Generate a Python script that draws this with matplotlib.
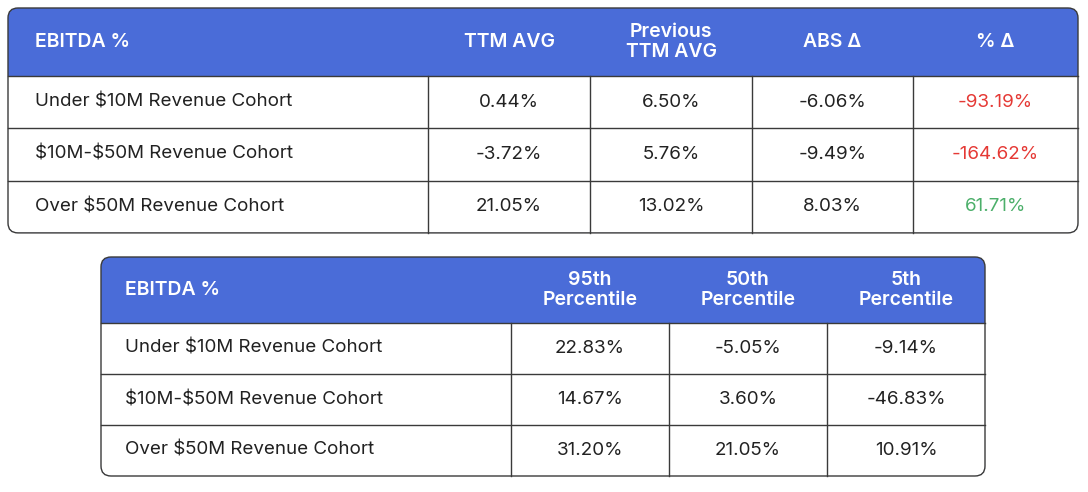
import matplotlib.pyplot as plt
from matplotlib.patches import FancyBboxPatch, Rectangle

BLUE = "#4A6CD8"
EDGE = "#3a3a3a"
RED = "#E53935"
GREEN = "#4CAF6A"

cohorts = ["Under $10M Revenue Cohort", "$10M-$50M Revenue Cohort", "Over $50M Revenue Cohort"]

top_headers = ["EBITDA %", "TTM AVG", "Previous\nTTM AVG", "ABS Δ", "% Δ"]
ttm_avg = ["0.44%", "-3.72%", "21.05%"]
prev_ttm_avg = ["6.50%", "5.76%", "13.02%"]
abs_delta = ["-6.06%", "-9.49%", "8.03%"]
pct_delta = ["-93.19%", "-164.62%", "61.71%"]

bottom_headers = ["EBITDA %", "95th\nPercentile", "50th\nPercentile", "5th\nPercentile"]
p95 = ["22.83%", "14.67%", "31.20%"]
p50 = ["-5.05%", "3.60%", "21.05%"]
p5 = ["-9.14%", "-46.83%", "10.91%"]

plt.rcParams["font.family"] = ["Inter", "DejaVu Sans"]
plt.rcParams["text.parse_math"] = False


def draw_table(ax, x0, x1, y0, yh, row_h, col_edges, headers, columns, colors, label_x):
    n = len(cohorts)
    y1 = yh + row_h * n
    r = 10
    ax.add_patch(FancyBboxPatch((x0, y0), x1 - x0, y1 - y0,
                                boxstyle=f"round,pad=0,rounding_size={r}",
                                fc=BLUE, ec="none", zorder=1))
    ax.add_patch(FancyBboxPatch((x0, yh), x1 - x0, y1 - yh,
                                boxstyle=f"round,pad=0,rounding_size={r}",
                                fc="white", ec="none", zorder=2))
    ax.add_patch(Rectangle((x0, yh), x1 - x0, r + 2, fc="white", ec="none", zorder=2))
    ax.add_patch(FancyBboxPatch((x0, y0), x1 - x0, y1 - y0,
                                boxstyle=f"round,pad=0,rounding_size={r}",
                                fc="none", ec=EDGE, lw=1.0, zorder=5))
    for i in range(1, n):
        yy = yh + row_h * i
        ax.plot([x0, x1], [yy, yy], color=EDGE, lw=1.0, zorder=4)
    ax.plot([x0, x1], [yh, yh], color=EDGE, lw=1.0, zorder=4)
    for xe in col_edges[1:-1]:
        ax.plot([xe, xe], [yh, y1], color=EDGE, lw=1.0, zorder=4)

    ax.text(label_x, (y0 + yh) / 2, headers[0], color="white", fontsize=14,
            fontweight="semibold", ha="left", va="center", zorder=6)
    for j, h in enumerate(headers[1:]):
        cx = (col_edges[j + 1] + col_edges[j + 2]) / 2
        ax.text(cx, (y0 + yh) / 2, h, color="white", fontsize=14, fontweight="semibold",
                ha="center", va="center", linespacing=1.15, zorder=6)
    for i, c in enumerate(cohorts):
        cy = yh + row_h * (i + 0.5)
        ax.text(label_x, cy, c, fontsize=13.5, color="#222222", ha="left", va="center", zorder=6)
        for j, col in enumerate(columns):
            cx = (col_edges[j + 1] + col_edges[j + 2]) / 2
            ax.text(cx, cy, col[i], fontsize=13.5, color=colors[j][i],
                    ha="center", va="center", zorder=6)


fig = plt.figure(figsize=(10.88, 4.92), dpi=100)
ax = fig.add_axes([0, 0, 1, 1])
ax.set_xlim(0, 1088)
ax.set_ylim(492, 0)
ax.axis("off")

dark = ["#222222"] * 3
pct_colors = [RED if v.startswith("-") else GREEN for v in pct_delta]
draw_table(ax, 8, 1078, 8, 76, 52.3, [8, 428, 590, 752, 913, 1078], top_headers,
           [ttm_avg, prev_ttm_avg, abs_delta, pct_delta], [dark, dark, dark, pct_colors], 35)
draw_table(ax, 101, 985, 257, 323, 51, [101, 511, 669, 827, 985], bottom_headers,
           [p95, p50, p5], [dark, dark, dark], 125)

fig.savefig("out.png", dpi=100)
